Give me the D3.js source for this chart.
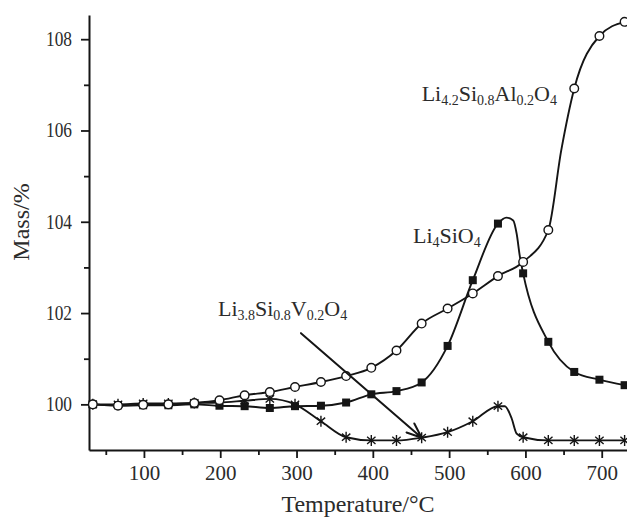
<!DOCTYPE html>
<html>
<head>
<meta charset="utf-8">
<script src="https://cdn.jsdelivr.net/npm/d3@7"></script>
<style>
  body { margin: 0; background: #fff; }
  svg { display: block; font-family: "Liberation Serif", "Times New Roman", serif; }
</style>
</head>
<body>
<svg id="chart" width="627" height="517"></svg>
<script>
// Sampling temperatures (°C) where markers are plotted
const temps = [33, 66, 99, 132, 166, 199, 232, 265, 298, 332, 365, 398, 431, 464, 498, 531, 564, 597, 630, 664, 697, 730];

// Mass (%) of each sorbent at those temperatures
const massAl = [100.0, 99.97, 99.99, 100.0, 100.03, 100.09, 100.2, 100.27, 100.38, 100.49, 100.62, 100.80, 101.18, 101.77, 102.1, 102.43, 102.81, 103.12, 103.82, 106.92, 108.07, 108.38];
const massSi = [100.0, 99.98, 99.98, 99.98, 100.0, 99.97, 99.96, 99.92, 99.96, 99.97, 100.04, 100.22, 100.29, 100.48, 101.28, 102.72, 103.96, 102.87, 101.37, 100.71, 100.54, 100.42];
const massV  = [100.0, 100.0, 100.02, 100.02, 100.03, 100.04, 100.08, 100.12, 100.0, 99.63, 99.28, 99.21, 99.21, 99.27, 99.39, 99.63, 99.96, 99.28, 99.21, 99.21, 99.21, 99.21];

// Additional readings of the curves between markers (peaks and steep rise)
const extraAl = [[647, 105.57]];
const extraSi = [[575, 104.09], [584, 104.03], [588.5, 103.74], [592.8, 103.23]];
const extraV  = [[573, 99.96], [582, 99.69], [588.5, 99.36]];

// Axis ticks
const xTicks = [100, 200, 300, 400, 500, 600, 700];
const xMinorTicks = [50, 150, 250, 350, 450, 550, 650, 750];
const yTicks = [100, 102, 104, 106, 108];
const yMinorTicks = [101, 103, 105, 107];

// Curve labels: [text, isSubscript]
const labelAl = [["Li", 0], ["4.2", 1], ["Si", 0], ["0.8", 1], ["Al", 0], ["0.2", 1], ["O", 0], ["4", 1]];
const labelSi = [["Li", 0], ["4", 1], ["SiO", 0], ["4", 1]];
const labelV  = [["Li", 0], ["3.8", 1], ["Si", 0], ["0.8", 1], ["V", 0], ["0.2", 1], ["O", 0], ["4", 1]];
// label anchors in data units [temperature, mass]
const labelAlPos = [464, 106.64];
const labelSiPos = [452.6, 103.53];
const labelVPos  = [197, 101.93];
// arrow pointing at the V-doped curve
const arrowFrom = [305.8, 101.56];
const arrowTo   = [464, 99.27];

const ink = "#151515";
const textInk = "#2b2b2b";

const svg = d3.select("#chart");
const x = d3.scaleLinear().domain([28, 760]).range([89, 647.5]);
const y = d3.scaleLinear().domain([99, 108.53]).range([450, 15]);

// ---- axes ----
const xAxis = svg.append("g").attr("transform", `translate(0,${y(99)})`)
  .call(d3.axisBottom(x).tickValues(xTicks).tickSize(8).tickSizeOuter(0).tickFormat(d3.format("d")));
xAxis.select(".domain").attr("stroke", ink).attr("stroke-width", 2);
xAxis.selectAll(".tick line").attr("stroke", ink).attr("stroke-width", 1.8);
xAxis.selectAll(".tick text").attr("y", 30).attr("dy", 0)
  .attr("font-size", 21).attr("fill", textInk).attr("font-family", "Liberation Serif");
svg.append("g").attr("transform", `translate(0,${y(99)})`)
  .call(d3.axisBottom(x).tickValues(xMinorTicks).tickSize(5).tickSizeOuter(0).tickFormat(""))
  .call(g => g.select(".domain").remove())
  .selectAll(".tick line").attr("stroke", ink).attr("stroke-width", 1.8);

const yAxis = svg.append("g").attr("transform", `translate(${x(28)},0)`)
  .call(d3.axisLeft(y).tickValues(yTicks).tickSize(8).tickSizeOuter(0).tickFormat(d3.format("d")));
yAxis.select(".domain").attr("stroke", ink).attr("stroke-width", 2);
yAxis.selectAll(".tick line").attr("stroke", ink).attr("stroke-width", 1.8);
yAxis.selectAll(".tick text").attr("x", -17)
  .attr("font-size", 20).attr("fill", textInk).attr("font-family", "Liberation Serif")
  .attr("textLength", 26).attr("lengthAdjust", "spacingAndGlyphs");
svg.append("g").attr("transform", `translate(${x(28)},0)`)
  .call(d3.axisLeft(y).tickValues(yMinorTicks).tickSize(5).tickSizeOuter(0).tickFormat(""))
  .call(g => g.select(".domain").remove())
  .selectAll(".tick line").attr("stroke", ink).attr("stroke-width", 1.8);

// axis titles
svg.append("text").attr("x", 358).attr("y", 512).attr("text-anchor", "middle")
  .attr("font-size", 24).attr("fill", textInk).text("Temperature/°C");
svg.append("text").attr("transform", "translate(29,222) rotate(-90)").attr("text-anchor", "middle")
  .attr("font-size", 24).attr("fill", textInk).text("Mass/%");

// ---- curves ----
const line = d3.line().x(d => x(d[0])).y(d => y(d[1])).curve(d3.curveMonotoneX);
function pts(mass, extra) {
  return temps.map((t, i) => [t, mass[i]]).concat(extra).sort((a, b) => a[0] - b[0]);
}
const seriesSi = temps.map((t, i) => [t, massSi[i]]);
const seriesV = temps.map((t, i) => [t, massV[i]]);
const seriesAl = temps.map((t, i) => [t, massAl[i]]);

[[massSi, extraSi], [massV, extraV], [massAl, extraAl]].forEach(([m, e]) => {
  svg.append("path").datum(pts(m, e)).attr("d", line)
    .attr("fill", "none").attr("stroke", ink).attr("stroke-width", 1.9).attr("stroke-linejoin", "round");
});

// squares
svg.append("g").selectAll("rect").data(seriesSi).join("rect")
  .attr("x", d => x(d[0]) - 4).attr("y", d => y(d[1]) - 4)
  .attr("width", 8).attr("height", 8).attr("fill", ink);

// asterisks
const star = "M0,-5.5L0,5.5M-4.2,-3.6L4.2,3.6M-4.2,3.6L4.2,-3.6";
svg.append("g").selectAll("path").data(seriesV).join("path")
  .attr("transform", d => `translate(${x(d[0])},${y(d[1])})`)
  .attr("d", star).attr("fill", "none").attr("stroke", ink).attr("stroke-width", 1.4);

// open circles
svg.append("g").selectAll("circle").data(seriesAl).join("circle")
  .attr("cx", d => x(d[0])).attr("cy", d => y(d[1])).attr("r", 4.3)
  .attr("fill", "#fff").attr("stroke", ink).attr("stroke-width", 1.4);

// ---- labels ----
function formula(parts, pos) {
  const t = svg.append("text").attr("x", x(pos[0])).attr("y", y(pos[1]))
    .attr("font-size", 22).attr("fill", textInk);
  let shifted = false;
  parts.forEach(([s, sub]) => {
    const ts = t.append("tspan").text(s);
    if (sub && !shifted) { ts.attr("dy", 4).attr("font-size", 14); shifted = true; }
    else if (sub) { ts.attr("font-size", 14); }
    else if (shifted) { ts.attr("dy", -4); shifted = false; }
  });
}
formula(labelAl, labelAlPos);
formula(labelSi, labelSiPos);
formula(labelV, labelVPos);

// ---- arrow ----
const ax0 = x(arrowFrom[0]), ay0 = y(arrowFrom[1]);
const ax1 = x(arrowTo[0]), ay1 = y(arrowTo[1]);
const ang = Math.atan2(ay1 - ay0, ax1 - ax0);
const headLen = 16, headSpread = 0.38;
const h1 = [ax1 - headLen * Math.cos(ang - headSpread), ay1 - headLen * Math.sin(ang - headSpread)];
const h2 = [ax1 - headLen * Math.cos(ang + headSpread), ay1 - headLen * Math.sin(ang + headSpread)];
svg.append("path")
  .attr("d", `M${ax0},${ay0}L${ax1},${ay1}M${h1[0]},${h1[1]}L${ax1},${ay1}L${h2[0]},${h2[1]}`)
  .attr("fill", "none").attr("stroke", ink).attr("stroke-width", 2).attr("stroke-linecap", "round");
</script>
</body>
</html>
